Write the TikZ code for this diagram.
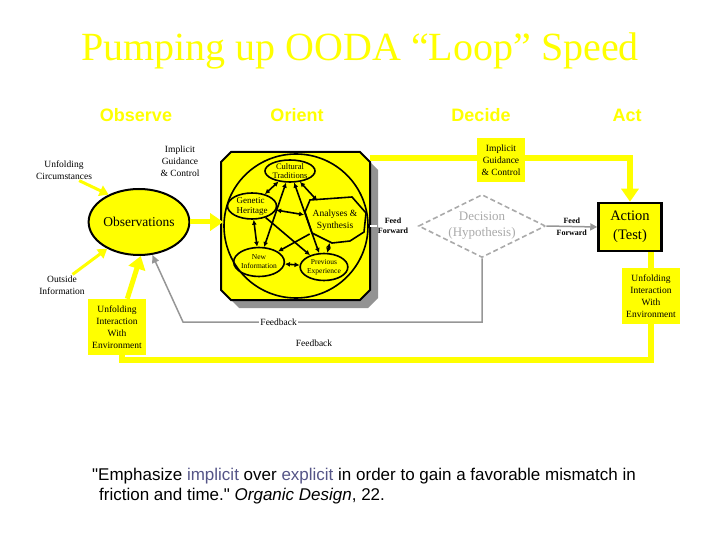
\documentclass[tikz,border=0pt]{standalone}
\usepackage{fontspec}
\setmainfont{Liberation Serif}
\newfontfamily\headfont{Liberation Sans}
\newfontfamily\quotefont{Liberation Sans}
\usetikzlibrary{arrows.meta,shapes.geometric,shadows,positioning}
\definecolor{oodayellow}{RGB}{255,255,0}
\definecolor{fbgray}{RGB}{150,150,150}
\definecolor{decgray}{RGB}{170,170,170}
\definecolor{quoteblue}{RGB}{85,85,135}
\newcommand{\ptsize}[2]{\fontsize{#1}{#2}\selectfont}

\begin{document}
\begin{tikzpicture}[x=1pt,y=-1pt,
  phase/.style={font=\headfont\bfseries\ptsize{18}{20}, text=oodayellow, anchor=base},
  note/.style={align=center, font=\ptsize{9.5}{12}, inner sep=1pt},
  ybox/.style={note, fill=oodayellow, minimum width=58pt, minimum height=56pt},
  bigarrow/.style={draw=oodayellow, line width=5pt, -{Triangle[length=13pt,width=17pt]}},
  thinarrow/.style={draw=oodayellow, line width=3pt, -{Triangle[length=9pt,width=11pt]}},
  loopline/.style={draw=oodayellow, line width=6pt},
  idea/.style={ellipse, draw, line width=1.6pt, inner sep=0pt, align=center},
  duo/.style={line width=1.6pt, {Latex[length=5pt,width=5pt]}-{Latex[length=5pt,width=5pt]}},
  oneway/.style={line width=1.6pt, -{Latex[length=5pt,width=5pt]}},
  fbline/.style={draw=fbgray, line width=1.5pt},
  ffnote/.style={align=center, font=\bfseries\ptsize{8}{10}, inner sep=1pt},
  quote/.style={anchor=west, font=\quotefont\ptsize{17}{20}, inner sep=0pt},
]
\useasboundingbox (0,0) rectangle (720,540);

% title and the four phases
\node[font=\ptsize{40}{44}, text=oodayellow] (title) at (360,51) {Pumping up OODA “Loop” Speed};
\node[phase] (hobs) at (136,122) {Observe};
\node[phase] (hori) at (297,122) {Orient};
\node[phase] (hdec) at (481,122) {Decide};
\node[phase] (hact) at (627,122) {Act};

% observe
\node[ellipse, draw, line width=2pt, fill=oodayellow, minimum width=84pt, minimum height=66pt,
  inner sep=0pt, font=\ptsize{13.5}{16}] (obs) at (139,222) {Observations};
\node[note] (uc) at (64,170) {Unfolding\\Circumstances};
\node[note] (oi) at (62,285) {Outside\\Information};
\node[note] (igcL) at (180,161) {Implicit\\Guidance\\\& Control};
\node[ybox] (uil) at (117,327) {Unfolding\\Interaction\\With\\Environment};
\draw[thinarrow] (uc.-35) -- (obs.138);
\draw[thinarrow] (oi.45) -- (obs.-140);
\draw[bigarrow] (uil.70) -- (obs.-87);

% orient
\draw[line width=2pt, fill=oodayellow,
  drop shadow={shadow xshift=8pt, shadow yshift=-8pt, fill=gray!85, opacity=1}]
  (231,152) -- (360,152) -- (370,162) -- (370,290) -- (360,300) -- (231,300)
  -- (221,290) -- (221,162) -- cycle;
\node[circle, draw, line width=1.6pt, minimum size=144pt, inner sep=0pt] (ori) at (296,226) {};
\node[idea, minimum width=50pt, minimum height=22pt, font=\ptsize{8.5}{9.5}] (cult) at (290,171) {Cultural\\Traditions};
\node[idea, minimum width=49pt, minimum height=26pt, font=\ptsize{9}{10}, align=left] (gen) at (252,206) {Genetic\\Heritage};
\node[ellipse, inner sep=0pt, minimum width=60pt, minimum height=46pt, align=center,
  font=\ptsize{9.5}{12}] (ana) at (335,220) {Analyses \&\\Synthesis};
\draw[line width=1.6pt, shift={(ana.center)}] (-25,-20) -- (17,-23) -- (31,-7) -- (29,12)
  -- (15,21) -- (-3,23) -- (-23,13) -- (-30,-8) -- cycle;
\node[idea, minimum width=48pt, minimum height=29pt, font=\ptsize{7.5}{9}] (newi) at (259,262) {New\\Information};
\node[idea, minimum width=47pt, minimum height=27pt, font=\ptsize{7.5}{9}] (prev) at (324,267) {Previous\\Experience};
\foreach \a/\b in {gen/cult,cult/ana,gen/newi,newi/prev,prev/ana,gen/ana,cult/newi,cult/prev}
  \draw[duo] (\a) -- (\b);
\draw[oneway] (gen) -- (prev);
\draw[oneway] (ana) -- (newi);
\draw[bigarrow] (obs.east) -- (obs.east -| ori.west);

% decide
\coordinate (oriE) at (370,226);
\node[ffnote] (ff1) at (393,226) {Feed\\Forward};
\draw[white, line width=1.5pt] (oriE) -- (ff1.west);
\node[diamond, draw=decgray, dash pattern=on 5pt off 3pt, line width=1.6pt, minimum width=127pt,
  minimum height=63pt, inner sep=0pt] (dec) at (482,226) {};
\node[text=decgray, align=center, font=\ptsize{13}{16}] (dectext) at (dec.center) {Decision\\(Hypothesis)};

% act
\node[draw, line width=2.5pt, fill=oodayellow, minimum width=63pt, minimum height=48pt,
  align=center, font=\ptsize{14.5}{19}] (act) at (630,227) {Action\\(Test)};
\draw[fbline, -{Triangle[length=7pt,width=7pt]}] (dec.east) -- (act.west)
  node[midway, ffnote] (ff2) {Feed\\[2pt]Forward};
\coordinate (oriNE) at (370,158);
\draw[loopline, -{Triangle[length=13pt,width=17pt]}] (oriNE) -| (act.north);
\node[note, fill=oodayellow, minimum width=48pt, minimum height=44pt] (igc) at (501,160) {Implicit\\Guidance\\\& Control};
\node[ybox] (uir) at (651,296) {Unfolding\\Interaction\\With\\Environment};
\draw[loopline] (act.south -| uir.north) -- (uir.north);

% loops back
\coordinate (loopL) at (122,360);
\draw[loopline] (uir.south) |- (loopL) -- (loopL |- uil.south);
\coordinate (fbL) at (183,322);
\draw[fbline, -{Triangle[length=8pt,width=7pt]}] (dec.south) |- (fbL)
  node[pos=0.84, note, fill=white] (fb1) {Feedback} -- (obs.-68);
\node[note] (fb2) at (314,343) {Feedback};

% quote
\node[quote] (q1) at (92,476)
  {"Emphasize \textcolor{quoteblue}{implicit} over \textcolor{quoteblue}{explicit} in order to gain a favorable mismatch in};
\node[quote] (q2) at (99,496)
  {friction and time." \textit{Organic Design}, 22.};
\end{tikzpicture}
\end{document}
